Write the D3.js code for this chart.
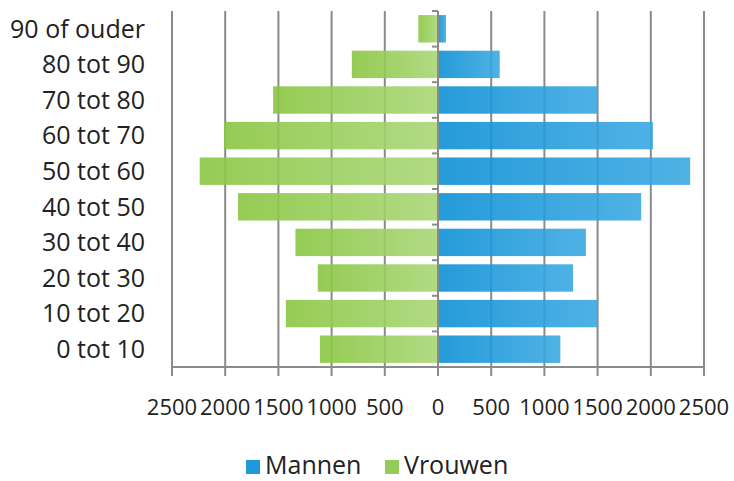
<!DOCTYPE html>
<html lang="nl">
<head>
<meta charset="utf-8" />
<title>Bevolkingspiramide</title>
<script src="https://cdn.jsdelivr.net/npm/d3@7"></script>
<style>
  body { margin: 0; background: #fff; }
  svg text { font-family: "Open Sans", sans-serif; fill: #222; }
</style>
</head>
<body>
<div id="chart"></div>
<script>
// age groups, bottom to top
var groups = ["0 tot 10", "10 tot 20", "20 tot 30", "30 tot 40", "40 tot 50",
              "50 tot 60", "60 tot 70", "70 tot 80", "80 tot 90", "90 of ouder"];
var mannen  = [1150, 1500, 1270, 1390, 1910, 2370, 2020, 1500, 580, 75];
var vrouwen = [1110, 1430, 1130, 1340, 1880, 2240, 2010, 1550, 810, 185];
var tickValues = [-2500, -2000, -1500, -1000, -500, 0, 500, 1000, 1500, 2000, 2500];
var legendNames = ["Mannen", "Vrouwen"];

var width = 734, height = 481;
var plotLeft = 172, plotRight = 704, plotTop = 11, plotBottom = 367;

var svg = d3.select("#chart").append("svg")
    .attr("width", width)
    .attr("height", height);

var defs = svg.append("defs");
function grad(id, c1, c2) {
  var g = defs.append("linearGradient").attr("id", id)
      .attr("x1", "0%").attr("x2", "100%").attr("y1", "0%").attr("y2", "0%");
  g.append("stop").attr("offset", "0%").attr("stop-color", c1);
  g.append("stop").attr("offset", "100%").attr("stop-color", c2);
}
grad("gMan", "#0d90d5", "#3ba9e2");
grad("gVrouw", "#89c641", "#a9d676");

var x = d3.scaleLinear().domain([-2500, 2500]).range([plotLeft, plotRight]);
var y = d3.scaleBand().domain(groups.slice().reverse())
    .range([plotTop, plotBottom]).paddingInner(0.23).paddingOuter(0.115);

var gridColor = "#8a8a8a";

// vertical gridlines (+ ticks below the axis)
svg.append("g").selectAll("line")
  .data(tickValues.filter(function(d) { return d !== 0; }))
  .join("line")
    .attr("x1", function(d) { return x(d); })
    .attr("x2", function(d) { return x(d); })
    .attr("y1", plotTop)
    .attr("y2", plotBottom + 9)
    .attr("stroke", gridColor)
    .attr("stroke-width", 2);

// bars
svg.append("g").selectAll("rect")
  .data(groups)
  .join("rect")
    .attr("x", function(d, i) { return x(-vrouwen[i]); })
    .attr("y", function(d) { return y(d); })
    .attr("width", function(d, i) { return x(0) - x(-vrouwen[i]); })
    .attr("height", y.bandwidth())
    .attr("fill", "url(#gVrouw)")
    .attr("opacity", 0.9);

svg.append("g").selectAll("rect")
  .data(groups)
  .join("rect")
    .attr("x", x(0))
    .attr("y", function(d) { return y(d); })
    .attr("width", function(d, i) { return x(mannen[i]) - x(0); })
    .attr("height", y.bandwidth())
    .attr("fill", "url(#gMan)")
    .attr("opacity", 0.9);

// bottom axis line
svg.append("line")
    .attr("x1", plotLeft - 1).attr("x2", plotRight + 1)
    .attr("y1", plotBottom).attr("y2", plotBottom)
    .attr("stroke", gridColor).attr("stroke-width", 2);

// zero axis with category ticks
svg.append("line")
    .attr("x1", x(0)).attr("x2", x(0))
    .attr("y1", plotTop).attr("y2", plotBottom + 9)
    .attr("stroke", gridColor).attr("stroke-width", 2);

var step = (plotBottom - plotTop) / groups.length;
svg.append("g").selectAll("line")
  .data(d3.range(groups.length))
  .join("line")
    .attr("x1", x(0) - 6).attr("x2", x(0))
    .attr("y1", function(d) { return plotTop + d * step; })
    .attr("y2", function(d) { return plotTop + d * step; })
    .attr("stroke", gridColor).attr("stroke-width", 2);

// category labels
svg.append("g").selectAll("text")
  .data(groups)
  .join("text")
    .attr("x", 145)
    .attr("y", function(d) { return y(d) + y.bandwidth() / 2; })
    .attr("dy", "0.35em")
    .attr("text-anchor", "end")
    .style("font-size", "25px")
    .text(function(d) { return d; });

// tick labels
svg.append("g").selectAll("text")
  .data(tickValues)
  .join("text")
    .attr("x", function(d) { return x(d); })
    .attr("y", 415)
    .attr("text-anchor", "middle")
    .style("font-size", "22px")
    .text(function(d) { return Math.abs(d); });

// legend
var legend = svg.append("g").selectAll("g")
  .data(legendNames)
  .join("g")
    .attr("transform", function(d, i) { return "translate(" + (i === 0 ? 246 : 385) + ",0)"; });
legend.append("rect")
    .attr("x", 0).attr("y", 460)
    .attr("width", 14).attr("height", 14)
    .attr("fill", function(d, i) { return i === 0 ? "#1f9ad9" : "#93cd58"; });
legend.append("text")
    .attr("x", 19).attr("y", 474)
    .style("font-size", "25px")
    .text(function(d) { return d; });
</script>
</body>
</html>
